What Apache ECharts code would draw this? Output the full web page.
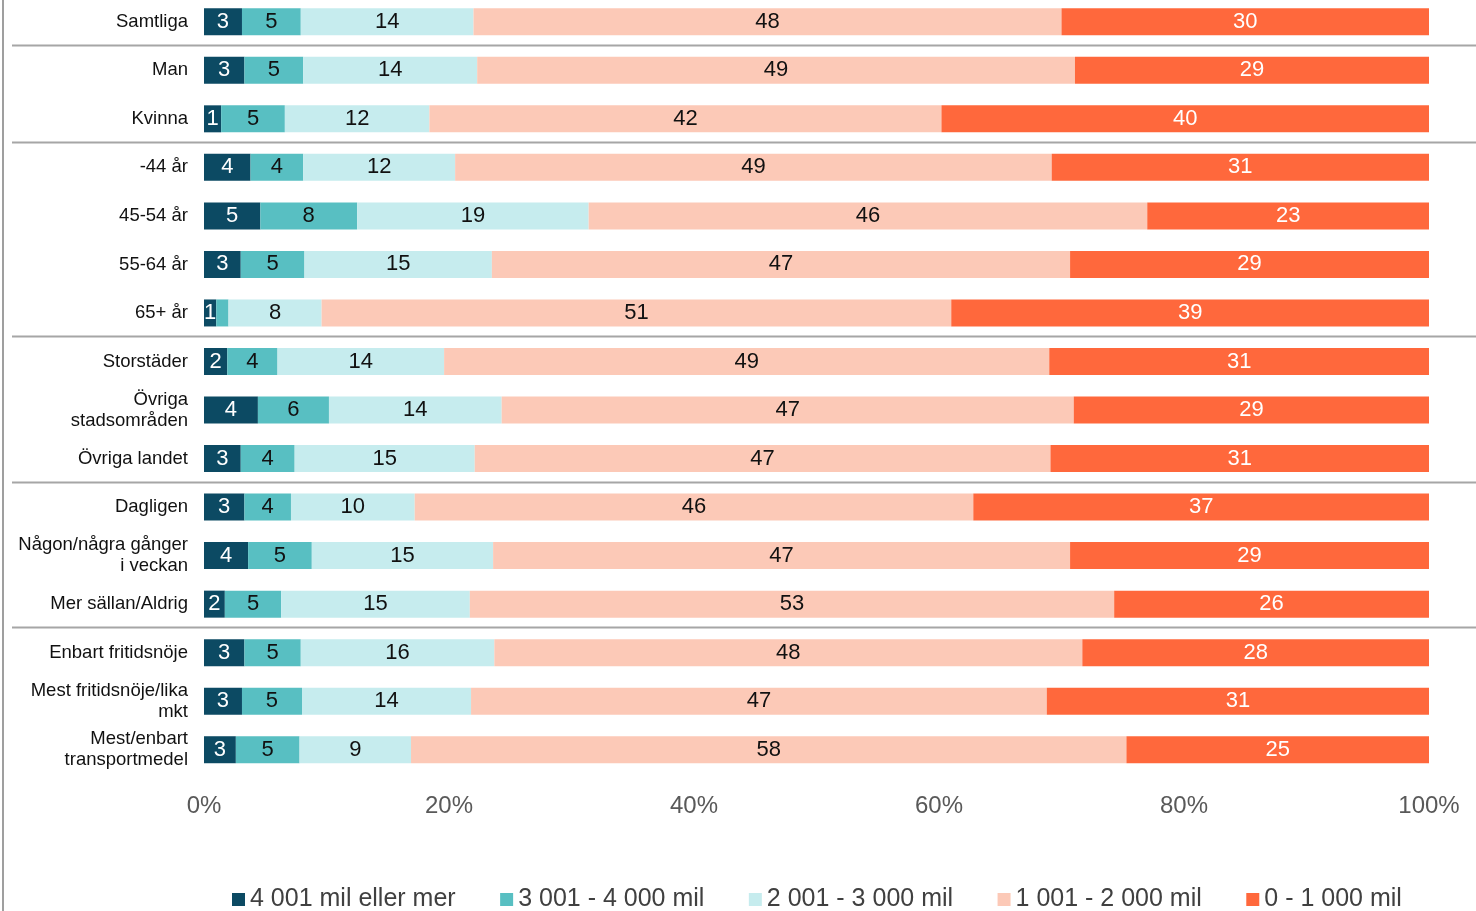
<!DOCTYPE html>
<html>
<head>
<meta charset="utf-8">
<script src="https://cdn.jsdelivr.net/npm/echarts@6/dist/echarts.min.js"></script>
<style>
html,body{margin:0;padding:0;background:#fff;}
#chart{width:1476px;height:911px;}
</style>
</head>
<body>
<div id="chart"></div>
<script>
const categories = ['Samtliga','Man','Kvinna','-44 år','45-54 år','55-64 år','65+ år','Storstäder','Övriga\nstadsområden','Övriga landet','Dagligen','Någon/några gånger\ni veckan','Mer sällan/Aldrig','Enbart fritidsnöje','Mest fritidsnöje/lika\nmkt','Mest/enbart\ntransportmedel'];
const seriesNames = ['4 001 mil eller mer','3 001 - 4 000 mil','2 001 - 3 000 mil','1 001 - 2 000 mil','0 - 1 000 mil'];
const over4000 = [3.1, 3.3, 1.4, 3.8, 4.6, 3.0, 1.0, 1.9, 4.4, 3.0, 3.3, 3.6, 1.7, 3.3, 3.1, 2.6];
const from3001 = [4.8, 4.8, 5.2, 4.3, 7.9, 5.2, 1.0, 4.1, 5.8, 4.4, 3.8, 5.2, 4.6, 4.6, 4.9, 5.2];
const from2001 = [14.1, 14.2, 11.8, 12.4, 18.9, 15.3, 7.6, 13.6, 14.1, 14.7, 10.1, 14.8, 15.4, 15.8, 13.8, 9.1];
const from1001 = [48.0, 48.8, 41.8, 48.7, 45.6, 47.2, 51.4, 49.4, 46.7, 47.0, 45.6, 47.1, 52.6, 48.0, 47.0, 58.4];
const upTo1000 = [30.0, 28.9, 39.8, 30.8, 23.0, 29.3, 39.0, 31.0, 29.0, 30.9, 37.2, 29.3, 25.7, 28.3, 31.2, 24.7];
const xTicks = [0, 20, 40, 60, 80, 100];
// labels not shown in the original: [seriesIndex, categoryIndex]
const hiddenLabels = [[1, 6]];
// groups end after these categories (separator lines)
const groupEnds = ['Samtliga','Kvinna','65+ år','Övriga landet','Mer sällan/Aldrig'];

const colors = ['#0c4a63','#58bfc2','#c6ecee','#fcc9b7','#ff683c'];
const labelColors = ['#ffffff','#111111','#111111','#111111','#ffffff'];
const values = [over4000, from3001, from2001, from1001, upTo1000];
const FONT = '"Liberation Sans", Arial, sans-serif';

const series = seriesNames.map((name, s) => ({
  name: name,
  type: 'bar',
  stack: 'total',
  barWidth: 27,
  itemStyle: { color: colors[s] },
  label: {
    show: true,
    position: 'inside',
    color: labelColors[s],
    fontSize: 22,
    fontFamily: FONT,
    formatter: p => String(Math.round(p.value))
  },
  emphasis: { disabled: true },
  data: values[s].map((v, i) => hiddenLabels.some(h => h[0] === s && h[1] === i) ? { value: v, label: { show: false } } : v)
}));

const chart = echarts.init(document.getElementById('chart'), null, { renderer: 'canvas' });
chart.setOption({
  animation: false,
  backgroundColor: '#ffffff',
  textStyle: { fontFamily: FONT },
  grid: { left: 204, right: 47, top: -2.5, bottom: 137, containLabel: false, outerBoundsMode: 'none' },
  xAxis: {
    type: 'value',
    min: xTicks[0],
    max: xTicks[xTicks.length - 1],
    interval: xTicks[1] - xTicks[0],
    axisLine: { show: false },
    axisTick: { show: false },
    splitLine: { show: false },
    axisLabel: { formatter: '{value}%', fontSize: 24, color: '#595959', margin: 20, fontFamily: FONT }
  },
  yAxis: {
    type: 'category',
    inverse: true,
    data: categories,
    axisLine: { show: false },
    axisTick: { show: false },
    axisLabel: { fontSize: 18.5, color: '#111111', margin: 16, lineHeight: 21, fontFamily: FONT, align: 'right' }
  },
  legend: {
    data: seriesNames,
    left: 232,
    top: 887,
    itemWidth: 13,
    itemHeight: 13,
    itemGap: 44.5,
    padding: 0,
    icon: 'rect',
    textStyle: { fontSize: 25, color: '#404040', fontFamily: FONT }
  },
  series: series
});

// Separator lines between groups and left frame line, placed from the axis scale
const graphics = [];
groupEnds.forEach(name => {
  const i = categories.indexOf(name);
  const y1 = chart.convertToPixel({ yAxisIndex: 0 }, categories[i]);
  const y2 = chart.convertToPixel({ yAxisIndex: 0 }, categories[i + 1]);
  const y = Math.round((y1 + y2) / 2) - 0.5;
  graphics.push({
    type: 'line',
    shape: { x1: 12, y1: y, x2: 1476, y2: y },
    style: { stroke: '#a6a6a6', lineWidth: 2 },
    silent: true
  });
});
graphics.push({
  type: 'line',
  shape: { x1: 3, y1: 0, x2: 3, y2: 911 },
  style: { stroke: '#7f7f7f', lineWidth: 1.5 },
  silent: true
});
chart.setOption({ graphic: graphics });
</script>
</body>
</html>
